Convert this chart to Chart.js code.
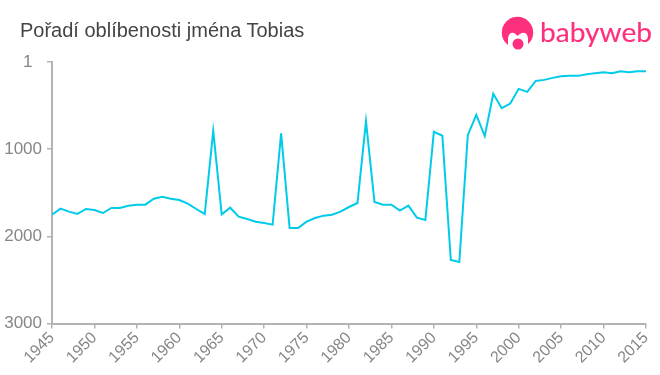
<!DOCTYPE html>
<html>
<head>
<meta charset="utf-8">
<script src="https://cdn.jsdelivr.net/npm/chart.js@4"></script>
<style>
html,body{margin:0;padding:0;background:#fff;overflow:hidden}
#wrap{position:relative;width:660px;height:375px}
canvas{position:absolute;left:0;top:0}
#logo{position:absolute;left:0;top:0;pointer-events:none}
#title{position:absolute;left:20px;top:19px;font:20px/22px 'Liberation Sans',Arial,sans-serif;color:#444;white-space:nowrap}
</style>
</head>
<body>
<div id="wrap">
<canvas id="c" width="660" height="375"></canvas>
<div id="title"></div>
<svg id="logo" width="660" height="375" xmlns="http://www.w3.org/2000/svg">
  <circle cx="517.5" cy="32.5" r="15.7" fill="#fe2f7d"/>
  <path d="M508 50 L508 38 Q509 32 514 33 Q516 34 517.5 36 Q519 34 522 33 Q527 32 528 38 L528 50 Z" fill="#fff"/>
  <circle cx="518" cy="44" r="5.5" fill="#fe2f7d"/>
  <text x="540" y="42" font-family="Lato, 'Open Sans', sans-serif" font-size="27" textLength="112" lengthAdjust="spacingAndGlyphs" fill="#fe2f7d" stroke="#fe2f7d" stroke-width="0.15">babyweb</text>
</svg>
</div>
<script>
const chartTitle = "Pořadí oblíbenosti jména Tobias";
const years = [1945,1946,1947,1948,1949,1950,1951,1952,1953,1954,1955,1956,1957,1958,1959,1960,1961,1962,1963,1964,1965,1966,1967,1968,1969,1970,1971,1972,1973,1974,1975,1976,1977,1978,1979,1980,1981,1982,1983,1984,1985,1986,1987,1988,1989,1990,1991,1992,1993,1994,1995,1996,1997,1998,1999,2000,2001,2002,2003,2004,2005,2006,2007,2008,2009,2010,2011,2012,2013,2014,2015];
const ranks = [1752,1683,1717,1744,1687,1698,1733,1675,1675,1649,1637,1637,1569,1546,1569,1584,1626,1687,1744,790,1748,1672,1775,1802,1832,1847,1866,820,1905,1905,1832,1790,1763,1752,1717,1664,1618,680,1607,1637,1637,1706,1649,1786,1813,802,847,2271,2294,840,607,851,366,531,477,309,344,218,206,183,164,160,160,141,130,118,130,107,118,107,107];
const yTicks = [1,1000,2000,3000];
const lineColor = "#00cbe9";
const axisColor = "#b3b3b3";
const labelColor = "#868686";
document.getElementById("title").textContent = chartTitle;

new Chart(document.getElementById("c"), {
  type: "line",
  data: {
    datasets: [{
      data: years.map((y,i)=>({x:y,y:ranks[i]})),
      borderColor: lineColor,
      borderWidth: 2,
      pointRadius: 0,
      tension: 0,
      fill: false
    }]
  },
  options: {
    responsive: false,
    animation: false,
    layout: {padding: {left: 0, right: 14, top: 62, bottom: 0}},
    plugins: {
      legend: {display: false},
      tooltip: {enabled: false},
      title: {display: false}
    },
    scales: {
      x: {
        type: "linear",
        min: 1945,
        max: 2015,
        afterBuildTicks: s => { s.ticks = years.filter(y=>y%5===0).map(v=>({value:v})); },
        afterFit: s => { s.height = 51.5; },
        border: {color: axisColor, width: 2},
        grid: {display: true, drawOnChartArea: false, drawTicks: true, tickLength: 5, color: axisColor, lineWidth: 1.5},
        ticks: {
          color: labelColor,
          font: {family: "'Liberation Sans', Arial, sans-serif", size: 16},
          minRotation: 45,
          maxRotation: 45,
          autoSkip: false,
          padding: 0,
          callback: v => String(v)
        }
      },
      y: {
        type: "linear",
        reverse: true,
        min: 1,
        max: 3000,
        afterBuildTicks: s => { s.ticks = yTicks.map(v=>({value:v})); },
        afterFit: s => { s.width = 52; },
        border: {color: axisColor, width: 2},
        grid: {display: true, drawOnChartArea: false, drawTicks: true, tickLength: 5, color: axisColor, lineWidth: 1.5},
        ticks: {
          color: labelColor,
          font: {family: "'Liberation Sans', Arial, sans-serif", size: 17},
          padding: 5,
          autoSkip: false,
          callback: v => v === 1 ? "1\u00a0\u00a0" : String(v)
        }
      }
    }
  }
});
</script>
</body>
</html>
